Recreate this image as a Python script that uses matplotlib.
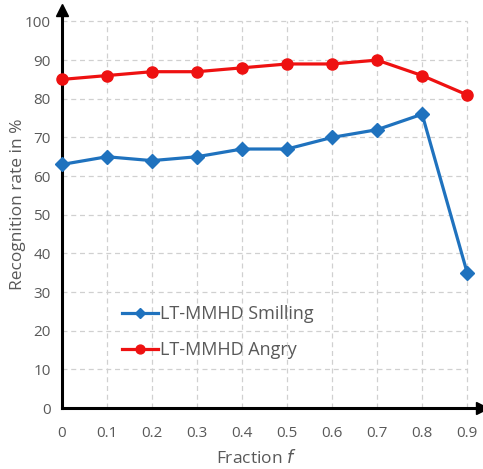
import numpy as np
import matplotlib.pyplot as plt

fractions = [0, 0.1, 0.2, 0.3, 0.4, 0.5, 0.6, 0.7, 0.8, 0.9]
smilling = [63, 65, 64, 65, 67, 67, 70, 72, 76, 35]
angry = [85, 86, 87, 87, 88, 89, 89, 90, 86, 81]
x_labels = ["0", "0.1", "0.2", "0.3", "0.4", "0.5", "0.6", "0.7", "0.8", "0.9"]
y_ticks = list(range(0, 101, 10))

plt.rcParams['font.family'] = ['Open Sans', 'DejaVu Sans']
gray = "#595959"

fig = plt.figure(figsize=(4.83, 4.69), dpi=100)
ax = fig.add_axes([0.128, 0.130, 0.870, 0.849])
ax.set_xlim(0, 0.933)
ax.set_ylim(0, 103)

# dashed grid limited to the data area
for x in fractions[1:]:
    ax.plot([x, x], [0, 100], color="#d0d0d0", lw=0.9, ls=(0, (4, 3)), zorder=1)
for y in y_ticks[1:]:
    ax.plot([0, 0.9], [y, y], color="#d0d0d0", lw=0.9, ls=(0, (4, 3)), zorder=1)

ax.plot(fractions, smilling, color="#1f72be", lw=2.3, marker="D", ms=7,
        label="LT-MMHD Smilling", zorder=3, clip_on=False)
ax.plot(fractions, angry, color="#ee1111", lw=2.3, marker="o", ms=8,
        label="LT-MMHD Angry", zorder=3, clip_on=False)

for s in ["top", "right"]:
    ax.spines[s].set_visible(False)
for s in ["left", "bottom"]:
    ax.spines[s].set_linewidth(2.2)
    ax.spines[s].set_color("black")
ax.plot(1, 0, ">k", ms=8, transform=ax.transAxes, clip_on=False)
ax.plot(0, 1, "^k", ms=8, transform=ax.transAxes, clip_on=False)

ax.set_xticks(fractions)
ax.set_xticklabels(x_labels)
ax.set_yticks(y_ticks)
ax.tick_params(length=0, labelsize=11, labelcolor=gray, pad=13)
ax.tick_params(axis="y", pad=8)

ax.set_xlabel("Fraction $\\mathit{f}$", fontsize=12.5, color=gray)
ax.set_ylabel("Recognition rate in %", fontsize=12.5, color=gray)
ax.xaxis.set_label_coords(0.462, -0.103)
ax.yaxis.set_label_coords(-0.086, 0.513)

ax.legend(loc="center left", bbox_to_anchor=(0.143, 0.191), frameon=False,
          fontsize=13, labelcolor=gray, handlelength=2.0, handletextpad=0.1,
          labelspacing=1.0, markerscale=0.8, borderaxespad=0, borderpad=0)

fig.savefig("out.png", dpi=100)
